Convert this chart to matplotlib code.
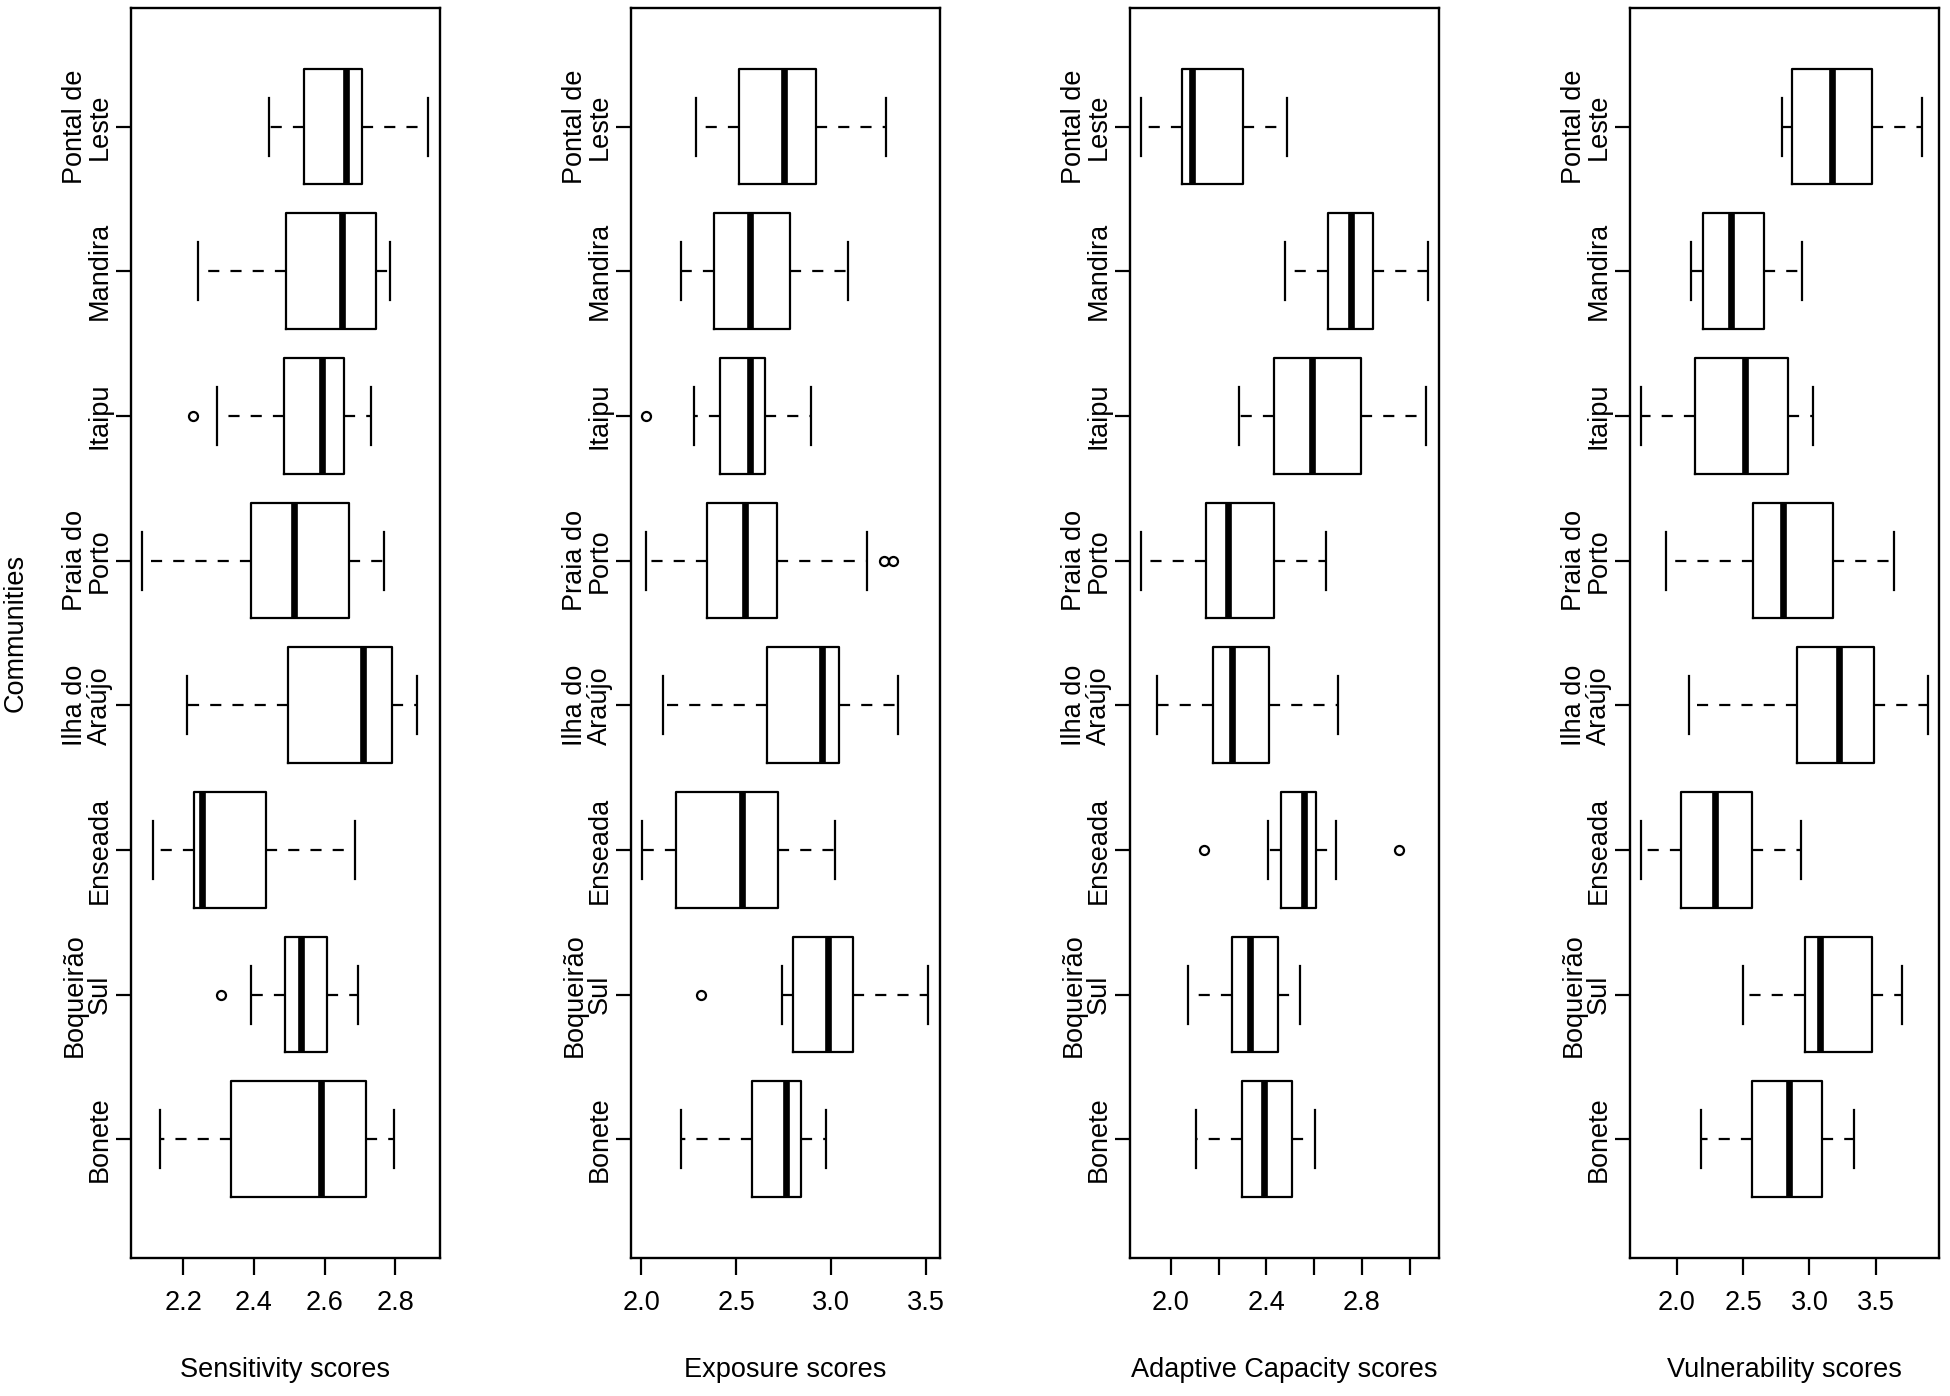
import matplotlib
matplotlib.use("Agg")
import matplotlib.pyplot as plt

plt.rcParams['font.family'] = ['Liberation Sans', 'DejaVu Sans']

# communities, bottom to top
communities = ["Bonete", "Boqueirão\nSul", "Enseada", "Ilha do\nAraújo",
               "Praia do\nPorto", "Itaipu", "Mandira", "Pontal de\nLeste"]

# Sensitivity
sens_lo = [2.134, 2.391, 2.116, 2.211, 2.084, 2.297, 2.242, 2.442]
sens_q1 = [2.334, 2.489, 2.230, 2.497, 2.392, 2.486, 2.491, 2.541]
sens_med = [2.591, 2.532, 2.253, 2.709, 2.513, 2.592, 2.648, 2.661]
sens_q3 = [2.718, 2.608, 2.433, 2.791, 2.669, 2.655, 2.745, 2.706]
sens_hi = [2.796, 2.695, 2.687, 2.862, 2.769, 2.731, 2.784, 2.893]
sens_out = [[], [2.307], [], [], [], [2.228], [], []]

# Exposure
exp_lo = [2.208, 2.744, 2.004, 2.113, 2.023, 2.277, 2.212, 2.289]
exp_q1 = [2.585, 2.799, 2.182, 2.661, 2.344, 2.416, 2.384, 2.516]
exp_med = [2.763, 2.984, 2.531, 2.955, 2.546, 2.575, 2.573, 2.753]
exp_q3 = [2.844, 3.118, 2.719, 3.042, 2.716, 2.652, 2.784, 2.920]
exp_hi = [2.977, 3.514, 3.021, 3.354, 3.193, 2.895, 3.088, 3.290]
exp_out = [[], [2.317], [], [], [3.283, 3.329], [2.026], [], []]

# Adaptive capacity
ac_lo = [2.104, 2.070, 2.406, 1.941, 1.877, 2.286, 2.480, 1.877]
ac_q1 = [2.298, 2.256, 2.461, 2.176, 2.147, 2.434, 2.660, 2.046]
ac_med = [2.392, 2.331, 2.557, 2.258, 2.239, 2.590, 2.755, 2.088]
ac_q3 = [2.506, 2.450, 2.608, 2.410, 2.433, 2.797, 2.847, 2.303]
ac_hi = [2.605, 2.542, 2.690, 2.700, 2.651, 3.070, 3.076, 2.486]
ac_out = [[], [], [2.141, 2.955], [], [], [], [], []]

# Vulnerability
vul_lo = [2.184, 2.502, 1.733, 2.088, 1.917, 1.733, 2.103, 2.794]
vul_q1 = [2.567, 2.968, 2.033, 2.907, 2.577, 2.139, 2.194, 2.872]
vul_med = [2.847, 3.081, 2.290, 3.220, 2.804, 2.514, 2.406, 3.167]
vul_q3 = [3.091, 3.472, 2.567, 3.487, 3.175, 2.837, 2.655, 3.472]
vul_hi = [3.334, 3.699, 2.938, 3.891, 3.641, 3.028, 2.943, 3.848]
vul_out = [[], [], [], [], [], [], [], []]

panels = [
    ("Sensitivity scores", sens_lo, sens_q1, sens_med, sens_q3, sens_hi, sens_out,
     [2.2, 2.4, 2.6, 2.8], ["2.2", "2.4", "2.6", "2.8"]),
    ("Exposure scores", exp_lo, exp_q1, exp_med, exp_q3, exp_hi, exp_out,
     [2.0, 2.5, 3.0, 3.5], ["2.0", "2.5", "3.0", "3.5"]),
    ("Adaptive Capacity scores", ac_lo, ac_q1, ac_med, ac_q3, ac_hi, ac_out,
     [2.0, 2.2, 2.4, 2.6, 2.8, 3.0], ["2.0", "", "2.4", "", "2.8", ""]),
    ("Vulnerability scores", vul_lo, vul_q1, vul_med, vul_q3, vul_hi, vul_out,
     [2.0, 2.5, 3.0, 3.5], ["2.0", "2.5", "3.0", "3.5"]),
]

fig = plt.figure(figsize=(19.5, 13.96), dpi=100)
lefts = [0.0670, 0.3234, 0.5795, 0.8359]
positions = list(range(1, len(communities) + 1))
fs = 19.5

for i, (xlab, lo, q1, med, q3, hi, out, xt, xtl) in enumerate(panels):
    ax = fig.add_axes([lefts[i], 0.0989, 0.1585, 0.8954])
    stats = []
    for k in range(len(communities)):
        stats.append(dict(whislo=lo[k], q1=q1[k], med=med[k], q3=q3[k],
                          whishi=hi[k], fliers=out[k]))
    ax.bxp(stats, positions=positions, widths=0.8, capwidths=0.4,
           orientation='horizontal', showfliers=True,
           boxprops=dict(color='black', linewidth=1.6),
           medianprops=dict(color='black', linewidth=4.8, solid_capstyle='butt'),
           whiskerprops=dict(color='black', linewidth=1.6, linestyle=(0, (5, 5))),
           capprops=dict(color='black', linewidth=1.6),
           flierprops=dict(marker='o', markerfacecolor='none', markeredgecolor='black',
                           markersize=6.5, markeredgewidth=1.6, linestyle='none'))

    # R-style 4% range extension
    vals = lo + hi + [v for o in out for v in o]
    vmin, vmax = min(vals), max(vals)
    ext = (vmax - vmin) * 0.04
    ax.set_xlim(vmin - ext, vmax + ext)
    n = len(communities)
    ax.set_ylim(0.5 - n * 0.04, n + 0.5 + n * 0.04)

    ax.set_xticks(xt)
    ax.set_xticklabels(xtl, fontsize=fs)
    ax.set_yticks(positions)
    ax.set_yticklabels(communities, fontsize=fs, rotation=90, va='center',
                       ha='right', multialignment='center', linespacing=0.95)
    ax.tick_params(axis='x', direction='out', length=12, width=1.6, pad=11)
    ax.tick_params(axis='y', direction='out', length=11, width=1.6, pad=2)
    for sp in ax.spines.values():
        sp.set_linewidth(1.7)

    ax.set_xlabel(xlab, fontsize=fs)
    ax.xaxis.set_label_coords(0.5, -0.079)
    ax.xaxis.label.set_va('top')
    if i == 0:
        ax.set_ylabel("Communities", fontsize=fs)
        ax.yaxis.set_label_coords(-0.33, 0.5)

fig.savefig("out.png", dpi=100)
